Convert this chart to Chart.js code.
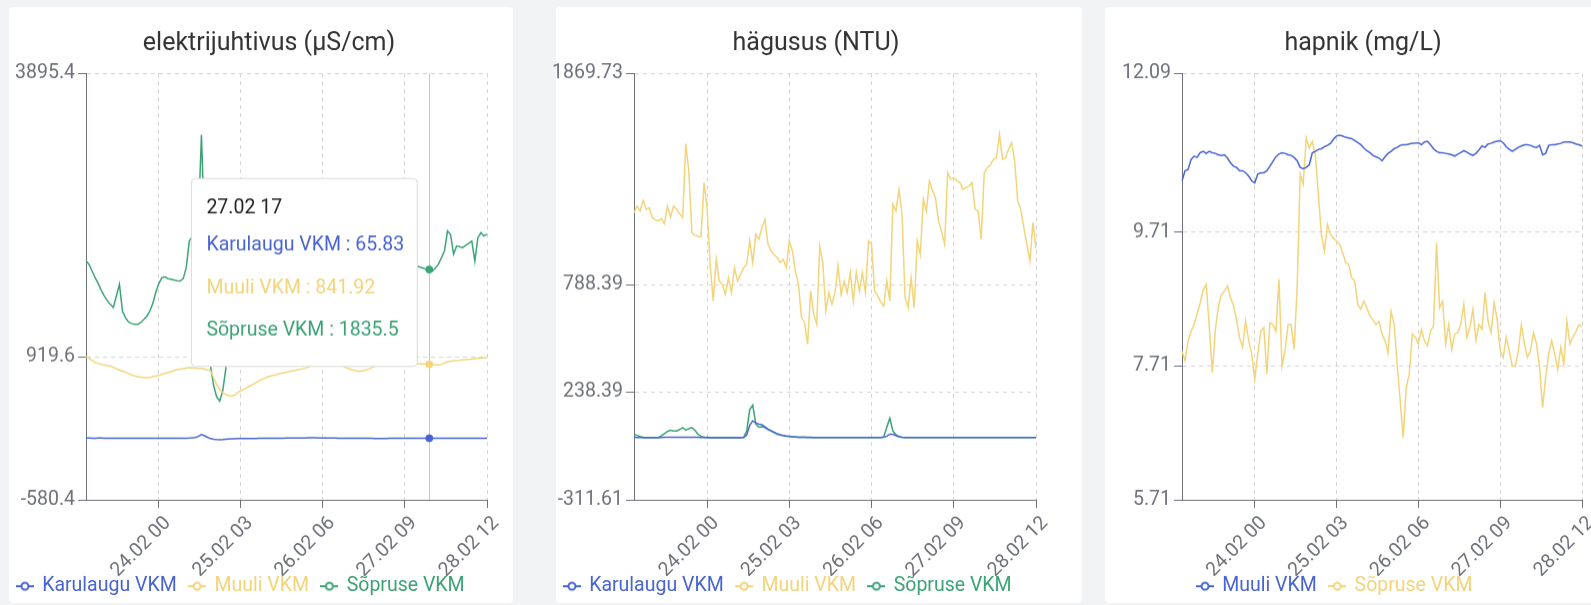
<!DOCTYPE html>
<html>
<head>
<meta charset="utf-8">
<script src="https://cdn.jsdelivr.net/npm/chart.js@4.4.1/dist/chart.umd.min.js"></script>
<style>
    html, body { margin: 0; padding: 0; }
    body { width: 1591px; height: 605px; overflow: hidden; background: #f2f3f5; position: relative; font-family: Roboto, sans-serif; }
    .card { position: absolute; top: 7px; height: 596px; background: #fff; border-radius: 4px; }
    .box  { position: absolute; top: 0; height: 617.5px; }
</style>
</head>
<body>
<div class="card" style="left:9px;width:504px;"></div>
<div class="card" style="left:556px;width:526px;"></div>
<div class="card" style="left:1105px;width:520px;"></div>

<div class="box" style="left:8px;width:504px;"><canvas id="chartEc"></canvas></div>
<div class="box" style="left:550px;width:511px;"><canvas id="chartTurb"></canvas></div>
<div class="box" style="left:1105px;width:502px;"><canvas id="chartOxy"></canvas></div>

<script>
// hourly labels 23.02 00 .. 28.02 12
const START_DAY = 23;
const MONTH = '02';
const HOURS = 133;
const LABELS = [];
for (let h = 0; h < HOURS; h++) {
    LABELS.push(`${START_DAY + Math.floor(h / 24)}.${MONTH} ${String(h % 24).padStart(2, '0')}`);
}
const X_TICKS = [24, 51, 78, 105, 132];

// elektrijuhtivus (µS/cm)
const EC_TICKS = [-580.4, 919.6, 3895.4];
const EC_KARULAUGU = [
    68,68,67,67,68,68,67,67,66,66, 66,67,67,66,66,66,65,65,66,66,
    65,65,65,66,66,66,65,65,65,66, 66,66,67,67,68,70,74,85,105,92,
    76,62,55,52,50,52,55,58,60,61, 62,62,63,63,64,64,64,65,65,65,
    66,66,66,67,67,67,68,68,68,69, 69,69,69,70,70,70,70,69,69,69,
    68,68,68,67,67,67,66,66,66,66, 65,65,65,65,65,64,64,64,64,64,
    65,65,65,65,65,65,66,66,66,66, 66,66,66,65.83,66,66,66,66,66,66,
    66,66,66,65,65,65,65,66,66,66,66,66,66
];
const EC_MUULI = [
    919,905,880,860,850,842,835,828,822,810, 795,780,770,760,745,730,720,712,706,702,
    702,705,712,718,724,735,748,754,765,775, 785,790,796,802,807,805,802,798,795,790,
    782,772,700,630,580,545,525,512,510,520, 545,565,580,598,615,632,650,668,685,700,
    712,720,728,737,745,752,760,766,772,778, 785,792,800,812,826,838,848,856,862,866,
    868,866,860,850,836,818,800,790,780,772, 768,772,780,789,805,822,835,848,856,862,
    866,868,866,862,858,855,852,850,850,849, 847,845,843,841.92,838,836,835,842,855,866,
    874,877,880,884,888,891,894,897,900,903,906,909,911
];
const EC_SOPRUSE = [
    1925,1890,1820,1750,1690,1620,1560,1510,1470,1436, 1560,1680,1400,1330,1285,1270,1262,1261,1280,1310,
    1345,1400,1480,1600,1690,1750,1760,1740,1733,1725, 1718,1715,1740,1855,2134,2180,2200,2350,3250,2250,
    1200,820,620,500,457,560,790,1250,1650,1800, 1850,1880,1900,1920,1900,1880,1860,1870,1890,1910,
    1930,1950,1940,1920,1900,1880,1870,1860,1850,1860, 1870,1880,1890,1900,1890,1880,1870,1860,1850,1840,
    1830,1820,1830,1840,1850,1860,1870,1880,1880,1870, 1860,1850,1840,1850,1860,1870,1880,1885,1880,1875,
    1870,1865,1860,1862,1865,1868,1870,1872,1872,1870, 1860,1850,1840,1835.5,1820,1850,1890,1960,2030,2240,
    2204,1995,2082,2075,2065,2090,2110,2134,1925,2170,2222,2187,2208
];

// hägusus (NTU)
const TURB_TICKS = [-311.61, 238.39, 788.39, 1869.73];
const TURB_KARULAUGU = [
    8,7,7,6,6,6,6,6,6,7, 8,8,8,9,9,9,9,9,9,9,
    8,8,7,7,6,6,6,6,6,6, 6,6,6,6,6,6,7,20,70,92,
    82,75,72,62,50,42,34,27,21,17, 14,12,11,10,9,9,8,8,8,7,
    7,7,7,7,7,7,7,7,7,7, 7,7,7,7,7,7,7,7,7,7,
    7,7,8,14,24,24,17,11,8,7, 7,7,7,7,7,7,7,7,7,7,
    7,7,7,7,7,7,7,7,7,7, 7,7,7,7,7,7,7,7,7,7,
    7,7,7,7,7,7,7,7,7,7,7,7,7
];
const TURB_MUULI = [
    1156,1190,1165,1219,1173,1182,1131,1120,1114,1127, 1100,1190,1134,1190,1173,1150,1131,1510,1369,1054,
    1042,1036,1032,1310,1180,892,705,918,807,790, 739,824,748,875,807,841,875,892,1012,901,
    1046,1020,1080,1122,995,960,943,926,901,918, 875,1012,961,858,790,620,594,484,756,640,
    586,986,900,654,748,688,748,884,739,807, 748,850,705,850,756,850,748,1012,995,756,
    731,700,679,807,705,1199,1165,1275,1148,722, 671,824,671,1012,943,1224,1165,1318,1270,1233,
    1114,1060,995,1361,1327,1335,1320,1310,1275,1285, 1292,1310,1173,1165,1020,1361,1386,1400,1429,1437,
    1556,1429,1437,1480,1514,1420,1216,1173,1080,995,909,1105,976
];
const TURB_SOPRUSE = [
    24,18,12,8,7,7,7,7,7,15, 27,38,44,40,41,48,58,45,52,58,
    44,24,14,9,8,7,7,7,7,7, 7,7,7,7,7,7,8,40,150,172,
    75,60,62,58,48,40,32,24,20,17, 15,13,11,10,9,8,8,7,7,7,
    7,7,7,7,7,7,7,7,7,7, 7,7,7,7,7,7,7,7,7,7,
    7,7,10,60,106,41,22,12,8,7, 7,7,7,7,7,7,7,7,7,7,
    7,7,7,7,7,7,7,7,7,7, 7,7,7,7,7,7,7,7,7,7,
    7,7,7,7,7,7,7,7,7,7,7,7,7
];

// hapnik (mg/L)
const OXY_TICKS = [5.71, 7.71, 9.71, 12.09];
const OXY_MUULI = [
    10.48,10.63,10.65,10.80,10.85,10.83,10.90,10.92,10.89,10.92, 10.90,10.89,10.87,10.86,10.87,10.82,10.75,10.70,10.68,10.63,
    10.63,10.60,10.55,10.48,10.45,10.58,10.60,10.60,10.63,10.70, 10.77,10.84,10.88,10.90,10.89,10.87,10.86,10.83,10.78,10.68,
    10.66,10.68,10.72,10.90,10.92,10.95,10.96,10.99,11.01,11.04, 11.10,11.15,11.16,11.15,11.13,11.12,11.11,11.08,11.05,11.02,
    10.97,10.93,10.90,10.86,10.84,10.82,10.78,10.84,10.89,10.92, 10.96,10.98,11.01,11.02,11.02,11.03,11.04,11.04,11.05,11.02,
    11.06,11.07,11.02,10.96,10.92,10.90,10.90,10.89,10.88,10.87, 10.85,10.88,10.90,10.93,10.91,10.88,10.86,10.89,10.94,11.00,
    10.98,11.03,11.04,11.06,11.07,11.08,11.05,10.99,10.95,10.92, 10.95,10.98,11.00,11.02,11.02,11.01,10.99,10.98,11.01,10.87,
    10.89,11.01,11.02,11.02,11.03,11.04,11.06,11.06,11.06,11.05,11.03,11.02,11.00
];
const OXY_SOPRUSE = [
    7.93,7.79,8.09,8.23,8.33,8.50,8.65,8.85,8.93,8.30, 7.61,8.25,8.60,8.78,8.83,8.91,8.73,8.62,8.40,8.13,
    7.99,8.38,8.09,7.89,7.51,7.89,8.23,8.29,7.59,8.36, 8.33,8.23,9.01,7.71,7.94,8.33,8.33,7.96,8.88,10.58,
    10.43,11.12,10.97,11.07,10.87,10.28,9.68,9.43,9.83,9.68, 9.62,9.58,9.53,9.41,9.26,9.23,9.03,8.98,8.63,8.56,
    8.68,8.58,8.46,8.40,8.33,8.38,8.19,8.09,7.91,8.53, 8.33,7.74,7.19,6.64,7.39,7.59,8.19,8.14,8.04,8.26,
    8.09,8.01,8.23,8.31,9.55,8.58,8.68,8.04,8.33,7.96, 8.19,8.21,8.33,8.63,8.14,8.29,8.56,8.09,8.33,8.26,
    8.81,8.38,8.21,8.66,8.41,7.94,7.84,8.14,7.94,7.71, 7.71,7.94,8.33,8.04,7.84,7.94,8.21,8.04,7.69,7.09,
    7.54,7.89,8.09,7.89,7.66,7.99,7.74,8.38,8.04,8.14,8.23,8.33,8.30
];

const BLUE   = '#4864d2';
const YELLOW = '#f3d47a';
const GREEN  = '#3ca375';
const AXIS_GREY = '#6e7079';
const GRID_GREY = '#d4d4d4';
const TEXT_SIZE = 19.5;

const TIP_INDEX = 113;     // 27.02 17
const TIP_CENTER_Y = 199;  // from top of plot area

Chart.defaults.font.family = 'Roboto, sans-serif';
Chart.defaults.animation = false;

Chart.Tooltip.positioners.besidePoint = function (items) {
    if (!items.length) return false;
    return { x: items[0].element.x, y: this.chart.chartArea.top + TIP_CENTER_Y };
};

// small "-o-" marker used in the legend
function legendIcon(color) {
    const c = document.createElement('canvas');
    c.width = 18; c.height = 12;
    const g = c.getContext('2d');
    g.strokeStyle = color;
    g.lineWidth = 2;
    g.beginPath(); g.moveTo(0, 6); g.lineTo(18, 6); g.stroke();
    g.beginPath(); g.arc(9, 6, 3.5, 0, Math.PI * 2);
    g.fillStyle = '#fff'; g.fill(); g.stroke();
    return c;
}

const crosshair = {
    id: 'crosshair',
    beforeDatasetsDraw(chart) {
        const act = chart.tooltip ? chart.tooltip.getActiveElements() : [];
        if (!act.length) return;
        const x = Math.round(act[0].element.x) + 0.5;
        const { top, bottom } = chart.chartArea;
        const ctx = chart.ctx;
        ctx.save();
        ctx.strokeStyle = '#c9c9c9';
        ctx.lineWidth = 1;
        ctx.beginPath(); ctx.moveTo(x, top); ctx.lineTo(x, bottom); ctx.stroke();
        ctx.restore();
    }
};

// nudge title / legend boxes after layout
const boxShift = {
    id: 'boxShift',
    afterLayout(chart, args, opts) {
        const t = chart.titleBlock, l = chart.legend;
        if (t && opts.titleDx) { t.left += opts.titleDx; t.right += opts.titleDx; }
        if (l) {
            l.left += opts.legendDx || 0; l.right += opts.legendDx || 0;
            l.top += opts.legendDy || 0; l.bottom += opts.legendDy || 0;
        }
    }
};

function buildChart(id, c) {
    return new Chart(document.getElementById(id), {
        type: 'line',
        data: {
            labels: LABELS,
            datasets: c.series.map(s => ({
                label: s.name, data: s.data,
                borderColor: s.color, backgroundColor: s.color,
                borderWidth: 1.5, pointRadius: 0, tension: 0,
                pointHoverRadius: 3.5, pointHoverBorderWidth: 1,
                pointHoverBackgroundColor: s.color, pointHoverBorderColor: s.color
            }))
        },
        plugins: [crosshair, boxShift],
        options: {
            responsive: true,
            maintainAspectRatio: false,
            events: [],
            layout: { padding: { left: 0, right: 25, top: 0, bottom: 0 } },
            scales: {
                x: {
                    type: 'category', offset: false,
                    afterBuildTicks: s => { s.ticks = X_TICKS.map(v => ({ value: v })); },
                    afterFit: s => { s.height = 76; },
                    ticks: { autoSkip: false, minRotation: 45, maxRotation: 45, padding: 4, labelOffset: 9,
                             color: AXIS_GREY, font: { size: TEXT_SIZE } },
                    grid: { color: GRID_GREY, tickColor: AXIS_GREY, tickLength: 8 },
                    border: { color: AXIS_GREY, dash: [4, 4] }
                },
                y: {
                    type: 'linear',
                    min: c.ticks[0], max: c.ticks[c.ticks.length - 1],
                    afterBuildTicks: s => { s.ticks = c.ticks.map(v => ({ value: v })); },
                    afterFit: s => { s.width = c.axisWidth; },
                    ticks: { callback: v => String(v), padding: 3, color: AXIS_GREY, font: { size: TEXT_SIZE } },
                    grid: { color: GRID_GREY, tickColor: AXIS_GREY, tickLength: 8 },
                    border: { color: AXIS_GREY, dash: [4, 4] }
                }
            },
            plugins: {
                title: {
                    display: true, text: c.title, color: '#333',
                    font: { size: 25, weight: 'normal' },
                    padding: { top: 29, bottom: 14 }
                },
                legend: {
                    position: 'bottom',
                    labels: {
                        usePointStyle: true, pointStyleWidth: 15, padding: 13,
                        font: { size: TEXT_SIZE },
                        generateLabels(chart) {
                            const items = Chart.defaults.plugins.legend.labels.generateLabels(chart);
                            items.forEach(it => {
                                const col = chart.data.datasets[it.datasetIndex].borderColor;
                                it.pointStyle = legendIcon(col);
                                it.fontColor = col;
                            });
                            return items;
                        }
                    }
                },
                boxShift: { titleDx: c.titleDx, legendDx: c.legendDx, legendDy: -12.5 },
                tooltip: {
                    mode: 'index', intersect: false, position: 'besidePoint',
                    xAlign: 'right', yAlign: 'center', caretSize: 0, caretPadding: 12,
                    backgroundColor: '#fff', borderColor: '#dadada', borderWidth: 1, cornerRadius: 4,
                    titleColor: '#222', titleFont: { size: TEXT_SIZE, weight: 'normal' }, titleMarginBottom: 14,
                    bodyFont: { size: TEXT_SIZE }, bodySpacing: 19,
                    padding: { top: 18, bottom: 24, left: 15, right: 13 },
                    displayColors: false,
                    callbacks: {
                        title: items => items[0].label,
                        label: it => `${it.dataset.label} : ${it.raw}`,
                        labelTextColor: it => it.dataset.borderColor
                    }
                }
            }
        }
    });
}

const ecChart = buildChart('chartEc', {
    title: 'elektrijuhtivus (μS/cm)', ticks: EC_TICKS,
    axisWidth: 78, titleDx: 21.5, legendDx: -6.5,
    series: [
        { name: 'Karulaugu VKM', data: EC_KARULAUGU, color: BLUE },
        { name: 'Muuli VKM',     data: EC_MUULI,     color: YELLOW },
        { name: 'Sõpruse VKM',   data: EC_SOPRUSE,   color: GREEN },
    ]
});

buildChart('chartTurb', {
    title: 'hägusus (NTU)', ticks: TURB_TICKS,
    axisWidth: 84, titleDx: 23, legendDx: -5,
    series: [
        { name: 'Karulaugu VKM', data: TURB_KARULAUGU, color: BLUE },
        { name: 'Muuli VKM',     data: TURB_MUULI,     color: YELLOW },
        { name: 'Sõpruse VKM',   data: TURB_SOPRUSE,   color: GREEN },
    ]
});

buildChart('chartOxy', {
    title: 'hapnik (mg/L)', ticks: OXY_TICKS,
    axisWidth: 77, titleDx: 19.5, legendDx: -8.5,
    series: [
        { name: 'Muuli VKM',   data: OXY_MUULI,   color: BLUE },
        { name: 'Sõpruse VKM', data: OXY_SOPRUSE, color: YELLOW },
    ]
});

// hovered state shown in the first panel
const active = ecChart.data.datasets.map((d, i) => ({ datasetIndex: i, index: TIP_INDEX }));
ecChart.setActiveElements(active);
ecChart.tooltip.setActiveElements(active, { x: 0, y: 0 });
ecChart.update();
</script>
</body>
</html>
